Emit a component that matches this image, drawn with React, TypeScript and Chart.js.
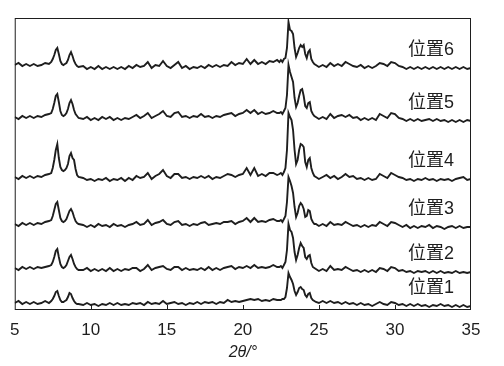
import { useEffect, useRef } from "react";
import { Chart, registerables } from "chart.js";

Chart.register(...registerables);

// 2θ sampling positions (degrees)
const twoTheta = [
  5, 5.25, 5.5, 5.75, 6, 6.25, 6.5, 6.75, 7, 7.25,
  7.4, 7.5, 7.6, 7.7, 7.8, 7.9, 8, 8.1, 8.2, 8.3, 8.4, 8.5, 8.6, 8.7, 8.8, 8.9, 9, 9.1, 9.2,
  9.5, 9.75, 10, 10.25, 10.5, 10.75, 11, 11.25, 11.5, 11.75, 12, 12.25, 12.5, 12.75,
  13, 13.25, 13.5, 13.75, 14, 14.25, 14.5, 14.75, 15, 15.25, 15.5, 15.75,
  16, 16.25, 16.5, 16.75, 17, 17.25, 17.5, 17.75, 18, 18.25, 18.5, 18.75,
  19, 19.25, 19.5, 19.75, 20, 20.25, 20.5, 20.75, 21, 21.25, 21.5, 21.75, 22, 22.25,
  22.4, 22.5, 22.6, 22.7, 22.8, 22.9, 23, 23.1, 23.2, 23.3, 23.4, 23.5, 23.6, 23.7, 23.8, 23.9,
  24, 24.1, 24.2, 24.3, 24.4, 24.5, 24.6, 24.7, 24.8,
  25, 25.25, 25.5, 25.75, 26, 26.25, 26.5, 26.75, 27, 27.25, 27.5, 27.75,
  28, 28.25, 28.5, 28.75, 29, 29.25, 29.5, 29.75, 30, 30.25, 30.5, 30.75,
  31, 31.25, 31.5, 31.75, 32, 32.25, 32.5, 32.75, 33, 33.25, 33.5, 33.75,
  34, 34.25, 34.5, 34.75, 35,
];

// stacked intensities (offset included), one list per position
const pos6 = [
  245, 247, 244, 246, 244, 246, 244, 245, 247, 246,
  248, 251, 255, 260, 262, 256, 249, 246, 245, 246, 247, 250, 255, 258, 254, 249, 246, 244, 243,
  244, 241, 243, 241, 244, 241, 243, 241, 243, 241, 243, 241, 244, 242,
  245, 243, 244, 248, 242, 245, 244, 249, 244, 242, 245, 248,
  242, 244, 241, 243, 242, 244, 242, 245, 243, 245, 243, 245,
  244, 248, 245, 247, 246, 251, 246, 250, 246, 248, 246, 249, 248, 250,
  248, 250, 248, 251, 252, 262, 288, 280, 279, 276, 262, 253, 257, 262, 265, 263,
  265, 256, 252, 258, 260, 251, 248, 246, 245,
  243, 245, 243, 247, 244, 246, 244, 248, 246, 244, 243, 245,
  242, 244, 242, 244, 247, 246, 244, 248, 247, 244, 243, 241,
  243, 241, 243, 241, 243, 241, 243, 241, 243, 241, 243, 241,
  243, 241, 243, 241, 242,
];
const pos5 = [
  193, 191, 194, 192, 194, 192, 194, 193, 195, 196,
  197, 201, 207, 214, 216, 208, 199, 195, 194, 195, 197, 201, 207, 210, 206, 200, 196, 194, 192,
  191, 193, 190, 192, 190, 193, 191, 193, 190, 192, 190, 192, 191, 193,
  195, 192, 194, 197, 192, 194, 196, 199, 194, 193, 197, 198,
  193, 194, 192, 194, 193, 196, 193, 194, 192, 194, 193, 195,
  196, 197, 194, 196, 197, 200, 197, 200, 196, 198, 196, 197, 199, 197,
  197, 198, 196, 199, 202, 215, 245, 238, 233, 228, 212, 203, 207, 214, 220, 221,
  214, 204, 202, 207, 208, 199, 196, 194, 193,
  191, 193, 191, 196, 192, 194, 195, 193, 195, 192, 193, 190,
  192, 190, 192, 190, 196, 194, 192, 197, 196, 192, 191, 189,
  191, 189, 191, 189, 190, 191, 189, 191, 189, 190, 188, 190,
  188, 190, 188, 190, 189,
];
const pos4 = [
  133, 131, 134, 132, 134, 132, 134, 133, 135, 136,
  137, 142, 150, 160, 166, 152, 143, 140, 139, 140, 142, 146, 154, 157, 152, 150, 141, 135, 133,
  132, 130, 131, 129, 131, 130, 132, 129, 131, 130, 132, 129, 132, 130,
  134, 132, 133, 137, 131, 134, 136, 140, 134, 132, 136, 136,
  132, 133, 131, 133, 132, 134, 132, 134, 131, 133, 132, 134,
  136, 135, 133, 135, 136, 142, 135, 142, 134, 136, 134, 137, 137, 135,
  136, 137, 135, 138, 142, 160, 197, 193, 190, 180, 160, 146, 150, 160, 166, 165,
  163, 148, 143, 150, 152, 142, 137, 134, 133,
  131, 133, 135, 132, 134, 131, 133, 136, 133, 134, 131, 132,
  130, 132, 130, 131, 136, 134, 132, 137, 135, 133, 132, 130,
  131, 129, 131, 130, 132, 130, 131, 129, 131, 130, 131, 129,
  131, 132, 133, 130, 131,
];
const pos3 = [
  86, 84, 87, 85, 87, 85, 87, 86, 88, 89,
  90, 94, 100, 106, 108, 100, 92, 89, 88, 89, 91, 95, 99, 101, 98, 93, 89, 87, 86,
  85, 83, 85, 83, 86, 84, 85, 83, 86, 84, 85, 83, 85, 86,
  88, 85, 86, 90, 85, 87, 88, 90, 86, 85, 88, 89,
  85, 86, 84, 86, 85, 87, 88, 85, 86, 87, 86, 88,
  88, 89, 86, 88, 89, 92, 88, 92, 88, 89, 88, 90, 91, 89,
  89, 90, 88, 91, 94, 108, 133, 129, 124, 117, 103, 93, 97, 104, 107, 105,
  101, 93, 94, 100, 99, 91, 88, 86, 86,
  84, 86, 84, 88, 85, 86, 85, 88, 86, 84, 85, 83,
  85, 83, 85, 84, 88, 86, 84, 88, 87, 85, 83, 85,
  82, 84, 82, 84, 83, 85, 82, 84, 83, 81, 83, 84,
  82, 84, 82, 83, 83,
];
const pos2 = [
  42, 40, 43, 41, 43, 41, 43, 42, 43, 44,
  45, 48, 53, 59, 61, 53, 46, 43, 42, 43, 45, 49, 53, 55, 51, 46, 43, 41, 40,
  40, 42, 39, 41, 39, 41, 39, 42, 39, 41, 39, 41, 40, 42,
  42, 39, 41, 45, 40, 42, 43, 44, 41, 40, 43, 43,
  40, 42, 40, 41, 40, 42, 40, 43, 40, 42, 40, 42,
  43, 44, 41, 43, 42, 44, 42, 45, 42, 43, 42, 43, 45, 43,
  43, 44, 42, 45, 48, 60, 86, 80, 78, 72, 58, 50, 55, 62, 67, 64,
  62, 53, 51, 54, 55, 47, 43, 42, 41,
  39, 41, 39, 44, 40, 41, 40, 43, 41, 39, 40, 38,
  40, 38, 40, 38, 42, 41, 39, 43, 42, 39, 40, 38,
  39, 37, 39, 38, 39, 37, 39, 37, 39, 37, 38, 37,
  39, 37, 38, 37, 38,
];
const pos1 = [
  7, 9, 6, 8, 6, 8, 6, 7, 9, 7,
  9, 11, 14, 18, 19, 14, 10, 8, 8, 9, 10, 13, 17, 16, 12, 9, 7, 6, 6,
  5, 7, 5, 6, 4, 6, 5, 7, 5, 7, 5, 6, 5, 7,
  6, 7, 5, 8, 6, 7, 6, 9, 6, 7, 8, 6,
  7, 5, 7, 6, 8, 6, 8, 7, 8, 6, 8, 7,
  10, 8, 9, 8, 9, 10, 11, 10, 11, 9, 10, 9, 11, 10,
  10, 10, 11, 11, 13, 22, 37, 33, 30, 26, 19, 15, 18, 22, 23, 21,
  20, 15, 13, 16, 17, 12, 10, 9, 8,
  7, 9, 7, 9, 7, 8, 6, 8, 6, 7, 5, 7,
  5, 6, 4, 6, 8, 6, 5, 8, 7, 5, 6, 4,
  6, 4, 6, 4, 5, 3, 5, 4, 6, 4, 5, 3,
  5, 3, 5, 3, 4,
];

const seriesNames = ["位置1", "位置2", "位置3", "位置4", "位置5", "位置6"];
const seriesValues = [pos1, pos2, pos3, pos4, pos5, pos6];
const xTicks = [5, 10, 15, 20, 25, 30, 35];
const xTitle = "2θ/°";

const INK = "#1e1e1e";
const FONT = '"Liberation Sans", "Noto Sans CJK SC", Arial, sans-serif';

const decor = {
  id: "decor",
  afterDatasetsDraw(chart: any) {
    const { ctx, chartArea: a, scales } = chart;
    ctx.save();
    ctx.strokeStyle = INK;
    ctx.lineWidth = 1;
    ctx.strokeRect(a.left + 0.5, a.top + 0.5, a.right - a.left - 1, a.bottom - a.top - 1);
    ctx.beginPath();
    xTicks.slice(1, -1).forEach((v) => {
      const x = Math.round(scales.x.getPixelForValue(v)) + 0.5;
      ctx.moveTo(x, a.bottom);
      ctx.lineTo(x, a.bottom - 5);
    });
    ctx.stroke();
    ctx.font = "18px " + FONT;
    ctx.fillStyle = INK;
    ctx.textAlign = "center";
    ctx.textBaseline = "middle";
    chart.data.datasets.forEach((ds: any) => {
      const last = ds.data[ds.data.length - 1];
      const y = scales.y.getPixelForValue(last.y) - 18;
      ctx.fillText(ds.label, a.right - 40, y);
    });
    ctx.restore();
  },
};

export default function App() {
  const ref = useRef<HTMLCanvasElement>(null);
  useEffect(() => {
    document.body.style.margin = "0";
    const chart = new Chart(ref.current!, {
      type: "line",
      data: {
        datasets: seriesValues.map((vals, k) => ({
          label: seriesNames[k],
          data: twoTheta.map((x, i) => ({ x, y: vals[i] })),
          borderColor: INK,
          borderWidth: 1.9,
          pointRadius: 0,
          tension: 0,
          fill: false,
        })),
      },
      options: {
        responsive: false,
        animation: false,
        layout: { padding: { left: 12, right: 33, top: 18, bottom: 0 } },
        plugins: { legend: { display: false }, tooltip: { enabled: false } },
        scales: {
          x: {
            type: "linear",
            min: 5,
            max: 35,
            afterBuildTicks: (s: any) => {
              s.ticks = xTicks.map((v) => ({ value: v }));
            },
            afterFit: (s: any) => {
              s.height = 56;
            },
            grid: { display: false, drawTicks: false },
            border: { display: false },
            ticks: {
              color: INK,
              padding: 10,
              maxRotation: 0,
              font: { family: FONT, size: 17 },
            },
            title: {
              display: true,
              text: xTitle,
              color: INK,
              padding: { top: 0, bottom: 4 },
              font: { family: FONT, size: 16, style: "italic" },
            },
          },
          y: { display: false, min: 0, max: 292 },
        },
      },
      plugins: [decor],
    });
    return () => chart.destroy();
  }, []);
  return <canvas ref={ref} width={504} height={366} style={{ display: "block" }} />;
}
